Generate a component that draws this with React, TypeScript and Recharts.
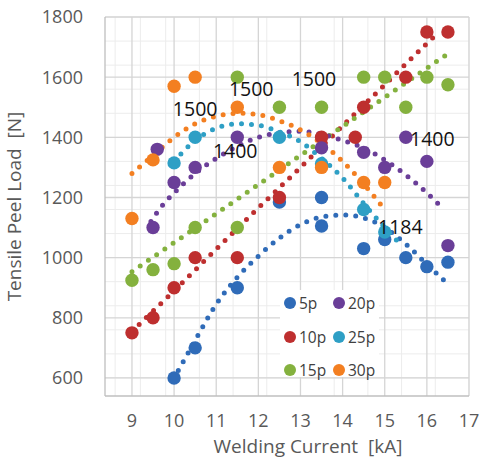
import React from 'react';
import {
  ComposedChart,
  Scatter,
  Line,
  XAxis,
  YAxis,
  CartesianGrid,
  Legend,
  ReferenceDot,
  Label,
} from 'recharts';

// ---------- data ----------
const seriesNames = ['5p', '10p', '15p', '20p', '25p', '30p'];
const seriesColors = ['#2F6BB8', '#BE2F2F', '#84B13E', '#6A3E98', '#2E9FC5', '#F37F21'];

const xTicks = [9, 10, 11, 12, 13, 14, 15, 16, 17];
const yTicks = [600, 800, 1000, 1200, 1400, 1600, 1800];

const pts5p = [
  { x: 10, y: 600 }, { x: 10.5, y: 700 }, { x: 11.5, y: 900 }, { x: 12.5, y: 1185 },
  { x: 13.5, y: 1200 }, { x: 13.5, y: 1105 }, { x: 14.5, y: 1030 }, { x: 15, y: 1060 },
  { x: 15.5, y: 1000 }, { x: 16, y: 970 }, { x: 16.5, y: 985 },
];
const pts10p = [
  { x: 9, y: 750 }, { x: 9.5, y: 800 }, { x: 10, y: 900 }, { x: 10.5, y: 1000 },
  { x: 11.5, y: 1000 }, { x: 12.5, y: 1200 }, { x: 13.5, y: 1400 }, { x: 14.3, y: 1400 },
  { x: 14.5, y: 1500 }, { x: 15.5, y: 1600 }, { x: 16, y: 1750 }, { x: 16.5, y: 1750 },
];
const pts15p = [
  { x: 9, y: 925 }, { x: 9.5, y: 960 }, { x: 10, y: 980 }, { x: 10.5, y: 1100 },
  { x: 11.5, y: 1100 }, { x: 11.5, y: 1600 }, { x: 12.5, y: 1500 }, { x: 13.5, y: 1500 },
  { x: 14.5, y: 1600 }, { x: 15, y: 1600 }, { x: 15.5, y: 1500 }, { x: 16, y: 1600 },
  { x: 16.5, y: 1575 },
];
const pts20p = [
  { x: 9.5, y: 1100 }, { x: 9.6, y: 1360 }, { x: 10, y: 1250 }, { x: 10.5, y: 1300 },
  { x: 11.5, y: 1400 }, { x: 13.5, y: 1365 }, { x: 14.5, y: 1350 }, { x: 15, y: 1300 },
  { x: 15.5, y: 1400 }, { x: 16, y: 1320 }, { x: 16.5, y: 1040 },
];
const pts25p = [
  { x: 10, y: 1315 }, { x: 10.5, y: 1400 }, { x: 12.5, y: 1400 }, { x: 13.5, y: 1312 },
  { x: 14.5, y: 1160 }, { x: 15, y: 1085 },
];
const pts30p = [
  { x: 9, y: 1130 }, { x: 9.5, y: 1325 }, { x: 10, y: 1570 }, { x: 10.5, y: 1600 },
  { x: 11.5, y: 1500 }, { x: 12.5, y: 1300 }, { x: 13.5, y: 1300 }, { x: 14.5, y: 1250 },
  { x: 15, y: 1250 },
];

// trend lines
const trend5p = [
  { x: 10.1, y: 625 }, { x: 10.5, y: 725 }, { x: 11, y: 845 }, { x: 11.5, y: 935 },
  { x: 12, y: 1005 }, { x: 12.5, y: 1065 }, { x: 13, y: 1110 }, { x: 13.5, y: 1135 },
  { x: 14, y: 1142 }, { x: 14.5, y: 1132 }, { x: 15, y: 1100 }, { x: 15.5, y: 1045 },
  { x: 16, y: 978 }, { x: 16.5, y: 912 },
];
const trend10p = [
  { x: 9, y: 755 }, { x: 10, y: 890 }, { x: 11, y: 1028 }, { x: 12, y: 1165 },
  { x: 13, y: 1300 }, { x: 14, y: 1438 }, { x: 15, y: 1575 }, { x: 16, y: 1712 },
  { x: 16.3, y: 1752 },
];
const trend15p = [
  { x: 9, y: 953 }, { x: 10, y: 1050 }, { x: 11, y: 1146 }, { x: 12, y: 1243 },
  { x: 13, y: 1340 }, { x: 14, y: 1436 }, { x: 15, y: 1533 }, { x: 16, y: 1630 },
  { x: 16.5, y: 1678 },
];
const trend20p = [
  { x: 9.45, y: 1120 }, { x: 9.7, y: 1170 }, { x: 10, y: 1215 }, { x: 10.5, y: 1280 },
  { x: 11, y: 1330 }, { x: 11.5, y: 1370 }, { x: 12, y: 1400 }, { x: 12.5, y: 1415 },
  { x: 13, y: 1420 }, { x: 13.5, y: 1410 }, { x: 14, y: 1390 }, { x: 14.5, y: 1365 },
  { x: 15, y: 1325 }, { x: 15.5, y: 1275 }, { x: 16, y: 1215 }, { x: 16.4, y: 1160 },
];
const trend25p = [
  { x: 10, y: 1320 }, { x: 10.5, y: 1390 }, { x: 11, y: 1430 }, { x: 11.5, y: 1445 },
  { x: 12, y: 1440 }, { x: 12.5, y: 1418 }, { x: 13, y: 1385 }, { x: 13.5, y: 1330 },
  { x: 14, y: 1265 }, { x: 14.5, y: 1180 }, { x: 15, y: 1100 }, { x: 15.4, y: 1040 },
];
const trend30p = [
  { x: 9, y: 1280 }, { x: 9.5, y: 1340 }, { x: 10, y: 1400 }, { x: 10.5, y: 1445 },
  { x: 11, y: 1470 }, { x: 11.5, y: 1480 }, { x: 12, y: 1475 }, { x: 12.5, y: 1455 },
  { x: 13, y: 1425 }, { x: 13.5, y: 1380 }, { x: 14, y: 1320 }, { x: 14.5, y: 1245 },
  { x: 15, y: 1160 },
];

const annotations = [
  { x: 10.5, y: 1493, text: '1500' },
  { x: 11.83, y: 1560, text: '1500' },
  { x: 13.32, y: 1593, text: '1500' },
  { x: 11.45, y: 1353, text: '1400' },
  { x: 16.13, y: 1393, text: '1400' },
  { x: 15.37, y: 1100, text: '1184' },
];

const pointSets = [pts5p, pts10p, pts15p, pts20p, pts25p, pts30p];
const trendSets = [trend5p, trend10p, trend15p, trend20p, trend25p, trend30p];

// ---------- layout / style ----------
const FONT = '"Open Sans", "Liberation Sans", sans-serif';
const X_DOMAIN: [number, number] = [8.36, 17];
const Y_DOMAIN: [number, number] = [540, 1800];
const minorX = Array.from({ length: 44 }, (_, i) => +(8.4 + i * 0.2).toFixed(2));
const minorY = Array.from({ length: 32 }, (_, i) => 560 + i * 40);

const LegendBox = () => {
  const order = [0, 3, 1, 4, 2, 5];
  return (
    <div
      style={{
        width: 99,
        height: 87,
        background: '#ffffff',
        position: 'relative',
        fontFamily: FONT,
        fontSize: 15.5,
        color: '#404040',
      }}
    >
      {order.map((si, k) => {
        const col = k % 2;
        const row = Math.floor(k / 2);
        return (
          <div
            key={si}
            style={{
              position: 'absolute',
              left: 4 + col * 49,
              top: 3 + row * 33.5,
              height: 20,
              display: 'flex',
              alignItems: 'center',
              whiteSpace: 'nowrap',
            }}
          >
            <span
              style={{
                display: 'inline-block',
                width: 12,
                height: 12,
                borderRadius: 6,
                background: seriesColors[si],
                marginRight: 3,
              }}
            />
            <span>{seriesNames[si]}</span>
          </div>
        );
      })}
    </div>
  );
};

export default function App() {
  return (
    <div style={{ position: 'absolute', left: 0, top: 0, width: 484, height: 461, background: '#fff' }}>
      <ComposedChart
        width={484}
        height={461}
        margin={{ top: 17, right: 15, bottom: 0, left: 0 }}
        style={{ fontFamily: FONT }}
      >
        <CartesianGrid
          stroke="#ECECEC"
          strokeWidth={1}
          verticalValues={minorX}
          horizontalValues={minorY}
        />
        <CartesianGrid stroke="#D5D5D5" strokeWidth={1.3} verticalValues={xTicks} horizontalValues={yTicks} />
        <XAxis
          type="number"
          dataKey="x"
          domain={X_DOMAIN}
          ticks={xTicks}
          allowDataOverflow
          height={65}
          tickSize={0}
          tickMargin={18}
          axisLine={{ stroke: '#BFBFBF', strokeWidth: 1.3 }}
          tick={{ fill: '#595959', fontSize: 18, fontFamily: FONT }}
        >
          <Label
            value={'Welding Current\u00A0 [kA]'}
            position="insideBottom"
            offset={8}
            dx={21}
            fill="#595959"
            fontSize={19}
            fontFamily={FONT}
          />
        </XAxis>
        <YAxis
          type="number"
          dataKey="y"
          domain={Y_DOMAIN}
          ticks={yTicks}
          allowDataOverflow
          width={105}
          tickSize={0}
          tickMargin={22}
          axisLine={{ stroke: '#BFBFBF', strokeWidth: 1.3 }}
          tick={{ fill: '#595959', fontSize: 18, fontFamily: FONT }}
        >
          <Label
            value={'Tensile Peel Load\u00A0 [N]'}
            angle={-90}
            position="insideLeft"
            offset={14}
            fill="#595959"
            fontSize={19}
            fontFamily={FONT}
            style={{ textAnchor: 'middle' }}
          />
        </YAxis>

        {pointSets.map((pts, i) => (
          <Scatter
            key={'s' + seriesNames[i]}
            name={seriesNames[i]}
            data={pts}
            fill={seriesColors[i]}
            isAnimationActive={false}
            shape={(p: any) => <circle cx={p.cx} cy={p.cy} r={6.7} fill={seriesColors[i]} />}
          />
        ))}

        {trendSets.map((tr, i) => (
          <Line
            key={'t' + seriesNames[i]}
            data={tr}
            dataKey="y"
            type="monotone"
            stroke={seriesColors[i]}
            strokeWidth={5}
            strokeDasharray="0 10"
            strokeLinecap="round"
            dot={false}
            activeDot={false}
            legendType="none"
            isAnimationActive={false}
          />
        ))}

        {annotations.map((a, i) => (
          <ReferenceDot
            key={'a' + i}
            x={a.x}
            y={a.y}
            r={0}
            fill="none"
            stroke="none"
            ifOverflow="visible"
            label={{
              value: a.text,
              position: 'center',
              fill: '#111111',
              fontSize: 19.5,
              fontFamily: FONT,
            }}
          />
        ))}

        <Legend
          layout="vertical"
          align="center"
          verticalAlign="middle"
          content={() => <LegendBox />}
          wrapperStyle={{ left: 280, top: 290, width: 99, height: 87 }}
        />
      </ComposedChart>
    </div>
  );
}
